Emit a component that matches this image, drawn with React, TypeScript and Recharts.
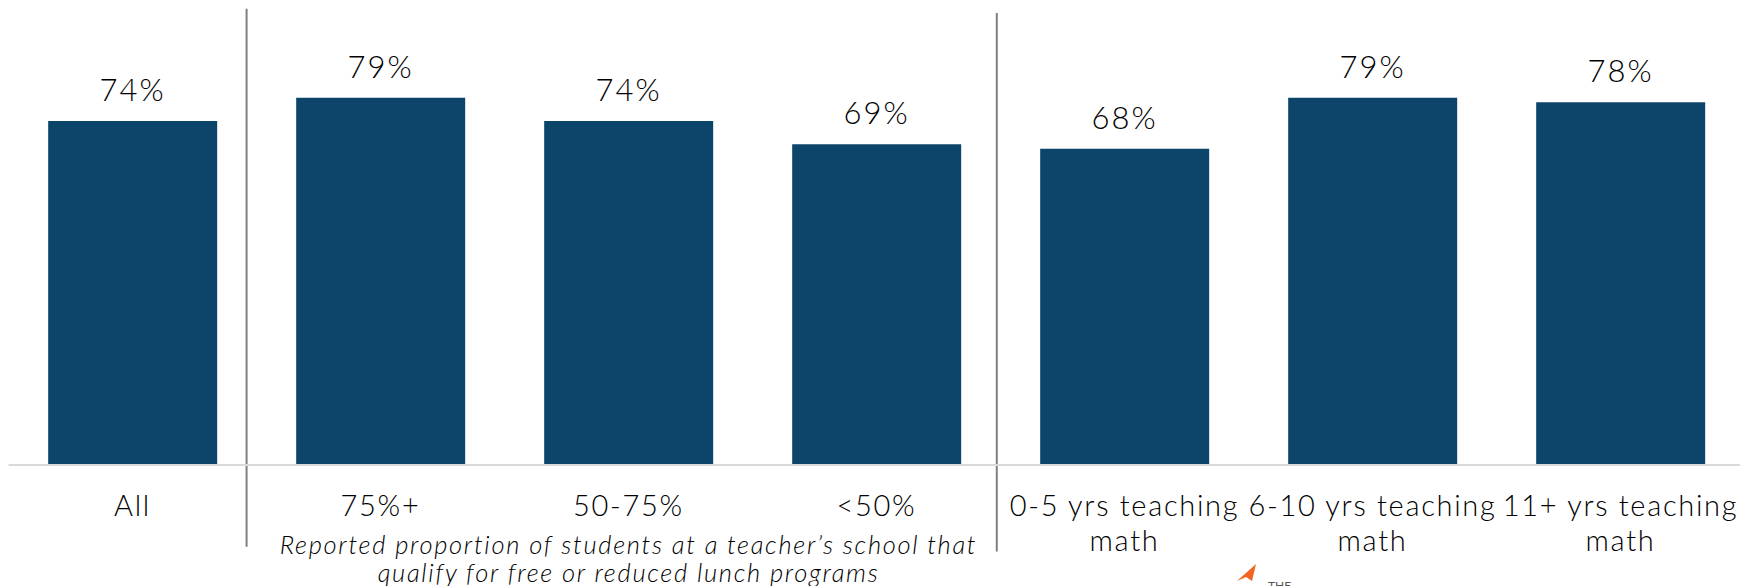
import { BarChart, Bar, XAxis, YAxis, LabelList, ReferenceLine } from "recharts";

const categories = [
  "All",
  "75%+",
  "50-75%",
  "<50%",
  "0-5 yrs teaching\nmath",
  "6-10 yrs teaching\nmath",
  "11+ yrs teaching\nmath",
];
const shares = [74, 79, 74, 69, 68, 79, 78];
const groupNote = [
  "Reported proportion of students at a teacher’s school that",
  "qualify for free or reduced lunch programs",
];
// group dividers, in category units along the axis
const dividers = [
  { x: 0.96, top: 98.1, bottom: -17.6 },
  { x: 3.985, top: 97.2, bottom: -18.6 },
];

// slot = centre of each category band, for the hidden numeric axis
const data = categories.map((label, i) => ({ label, value: shares[i], slot: i + 0.5 }));

const FONT = "Lato, 'Open Sans', sans-serif";
const BAR = "#0c4569";

function CategoryTick(props: any) {
  const { x, y, payload, index } = props;
  const lines = String(payload.value).split("\n");
  return (
    <g>
      {lines.map((line: string, i: number) => (
        <text
          key={i}
          x={x}
          y={y + 51 + i * 35}
          textAnchor="middle"
          fontFamily={FONT}
          fontWeight={300}
          fontSize={29}
          letterSpacing={1.7}
          fill="#000"
        >
          {line}
        </text>
      ))}
      {index === 2 &&
        groupNote.map((line, i) => (
          <text
            key={"n" + i}
            x={x}
            y={y + 89 + i * 27.5}
            textAnchor="middle"
            fontFamily={FONT}
            fontStyle="italic"
            fontWeight={300}
            fontSize={25.5}
            letterSpacing={1.7}
            fill="#000"
          >
            {line}
          </text>
        ))}
    </g>
  );
}

export default function App() {
  return (
    <div
      style={{
        position: "absolute",
        left: 0,
        top: 0,
        width: 1740,
        height: 586,
        overflow: "hidden",
        background: "#fff",
      }}
    >
      <BarChart
        width={1760}
        height={586}
        data={data}
        margin={{ top: 0, right: 15.5, left: 8.5, bottom: 0 }}
        barCategoryGap="16%"
      >
        <XAxis
          dataKey="label"
          height={121}
          tickLine={false}
          tickSize={0}
          tickMargin={0}
          interval={0}
          axisLine={{ stroke: "#d9d9d9", strokeWidth: 2 }}
          tick={<CategoryTick />}
        />
        <XAxis
          xAxisId="pos"
          dataKey="slot"
          type="number"
          domain={[0, 7]}
          allowDataOverflow
          hide
        />
        <YAxis hide domain={[0, 100]} />
        {dividers.map((d, i) => (
          <ReferenceLine
            key={i}
            xAxisId="pos"
            ifOverflow="visible"
            segment={[
              { x: d.x, y: d.top },
              { x: d.x, y: d.bottom },
            ]}
            stroke="#7f7f7f"
            strokeWidth={2}
          />
        ))}
        <Bar dataKey="value" fill={BAR} isAnimationActive={false}>
          <LabelList
            dataKey="value"
            position="top"
            offset={20}
            formatter={(v: any) => `${v}%`}
            style={{ fontFamily: FONT, fontWeight: 300, fontSize: 31, fill: "#000", letterSpacing: 2 }}
          />
        </Bar>
      </BarChart>
      <svg
        width={60}
        height={30}
        style={{ position: "absolute", left: 1234, top: 562 }}
      >
        <polygon points="3,19 22,2 18,19 12,15" fill="#f26522" />
        <text x={34} y={28} fontFamily={FONT} fontSize={12} fill="#555">
          THE
        </text>
      </svg>
    </div>
  );
}
